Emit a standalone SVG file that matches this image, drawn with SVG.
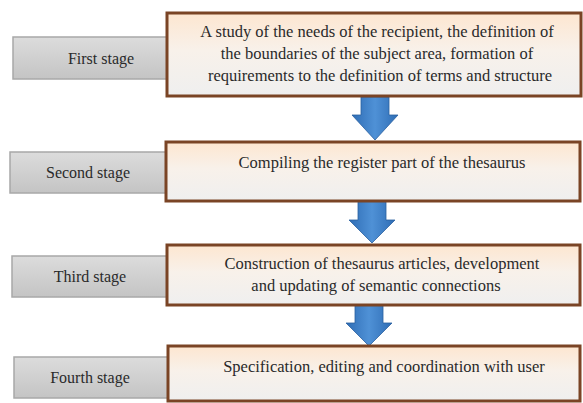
<svg xmlns="http://www.w3.org/2000/svg" width="583" height="403" viewBox="0 0 583 403">
<defs>
<linearGradient id="boxFill" x1="0" y1="0" x2="0" y2="1">
<stop offset="0" stop-color="#fde6d0"/>
<stop offset="0.45" stop-color="#f8f1ea"/>
<stop offset="1" stop-color="#efefef"/>
</linearGradient>
<linearGradient id="grayFill" x1="0" y1="0" x2="0" y2="1">
<stop offset="0" stop-color="#dcdcdc"/>
<stop offset="1" stop-color="#c4c4c4"/>
</linearGradient>
<linearGradient id="arrowFill" x1="0" y1="0" x2="1" y2="0">
<stop offset="0" stop-color="#2f6db5"/>
<stop offset="0.5" stop-color="#4f91d6"/>
<stop offset="1" stop-color="#2f6db5"/>
</linearGradient>
</defs>
<style>
.gray{fill:url(#grayFill);stroke:#a8a8a8;stroke-width:1.5}
.box{fill:url(#boxFill);stroke:#7a4425;stroke-width:3}
text{fill:#2a2a2a;text-anchor:middle}
.lbl{font-size:16px}
.txt{font-size:16.5px}
.arrow{fill:url(#arrowFill);stroke:#2a60a0;stroke-width:0.8}
</style>
<g id="connectors">
<path class="arrow" d="M361,97 H389 V115 H398 L375,140 L352,115 H361 Z"/>
<path class="arrow" d="M358,201 H386 V220 H395 L372,243 L349,220 H358 Z"/>
<path class="arrow" d="M355,305 H383 V323 H392 L369,346 L346,323 H355 Z"/>
</g>
<g id="stage1">
<rect class="gray" x="13" y="37" width="170" height="42"/>
<text class="lbl" font-family="Liberation Serif" x="101" y="64">First stage</text>
</g>
<g id="stage2">
<rect class="gray" x="10" y="152" width="170" height="41"/>
<text class="lbl" font-family="Liberation Serif" x="88" y="178">Second stage</text>
</g>
<g id="stage3">
<rect class="gray" x="12" y="256" width="170" height="41"/>
<text class="lbl" font-family="Liberation Serif" x="90" y="282">Third stage</text>
</g>
<g id="stage4">
<rect class="gray" x="14" y="357" width="170" height="41"/>
<text class="lbl" font-family="Liberation Serif" x="90" y="383">Fourth stage</text>
</g>
<g id="step1">
<rect class="box" x="167" y="13" width="414" height="83"/>
<text class="txt" font-family="Liberation Serif" x="377" y="37">A study of the needs of the recipient, the definition of</text>
<text class="txt" font-family="Liberation Serif" x="377" y="59">the boundaries of the subject area, formation of</text>
<text class="txt" font-family="Liberation Serif" x="380" y="81">requirements to the definition of terms and structure</text>
</g>
<g id="step2">
<rect class="box" x="166" y="142" width="414" height="59"/>
<text class="txt" font-family="Liberation Serif" x="382" y="168">Compiling the register part of the thesaurus</text>
</g>
<g id="step3">
<rect class="box" x="167" y="245" width="413" height="60"/>
<text class="txt" font-family="Liberation Serif" x="382" y="269">Construction of thesaurus articles, development</text>
<text class="txt" font-family="Liberation Serif" x="376" y="291">and updating of semantic connections</text>
</g>
<g id="step4">
<rect class="box" x="168" y="346" width="412" height="55"/>
<text class="txt" font-family="Liberation Serif" x="384" y="372">Specification, editing and coordination with user</text>
</g>
</svg>
